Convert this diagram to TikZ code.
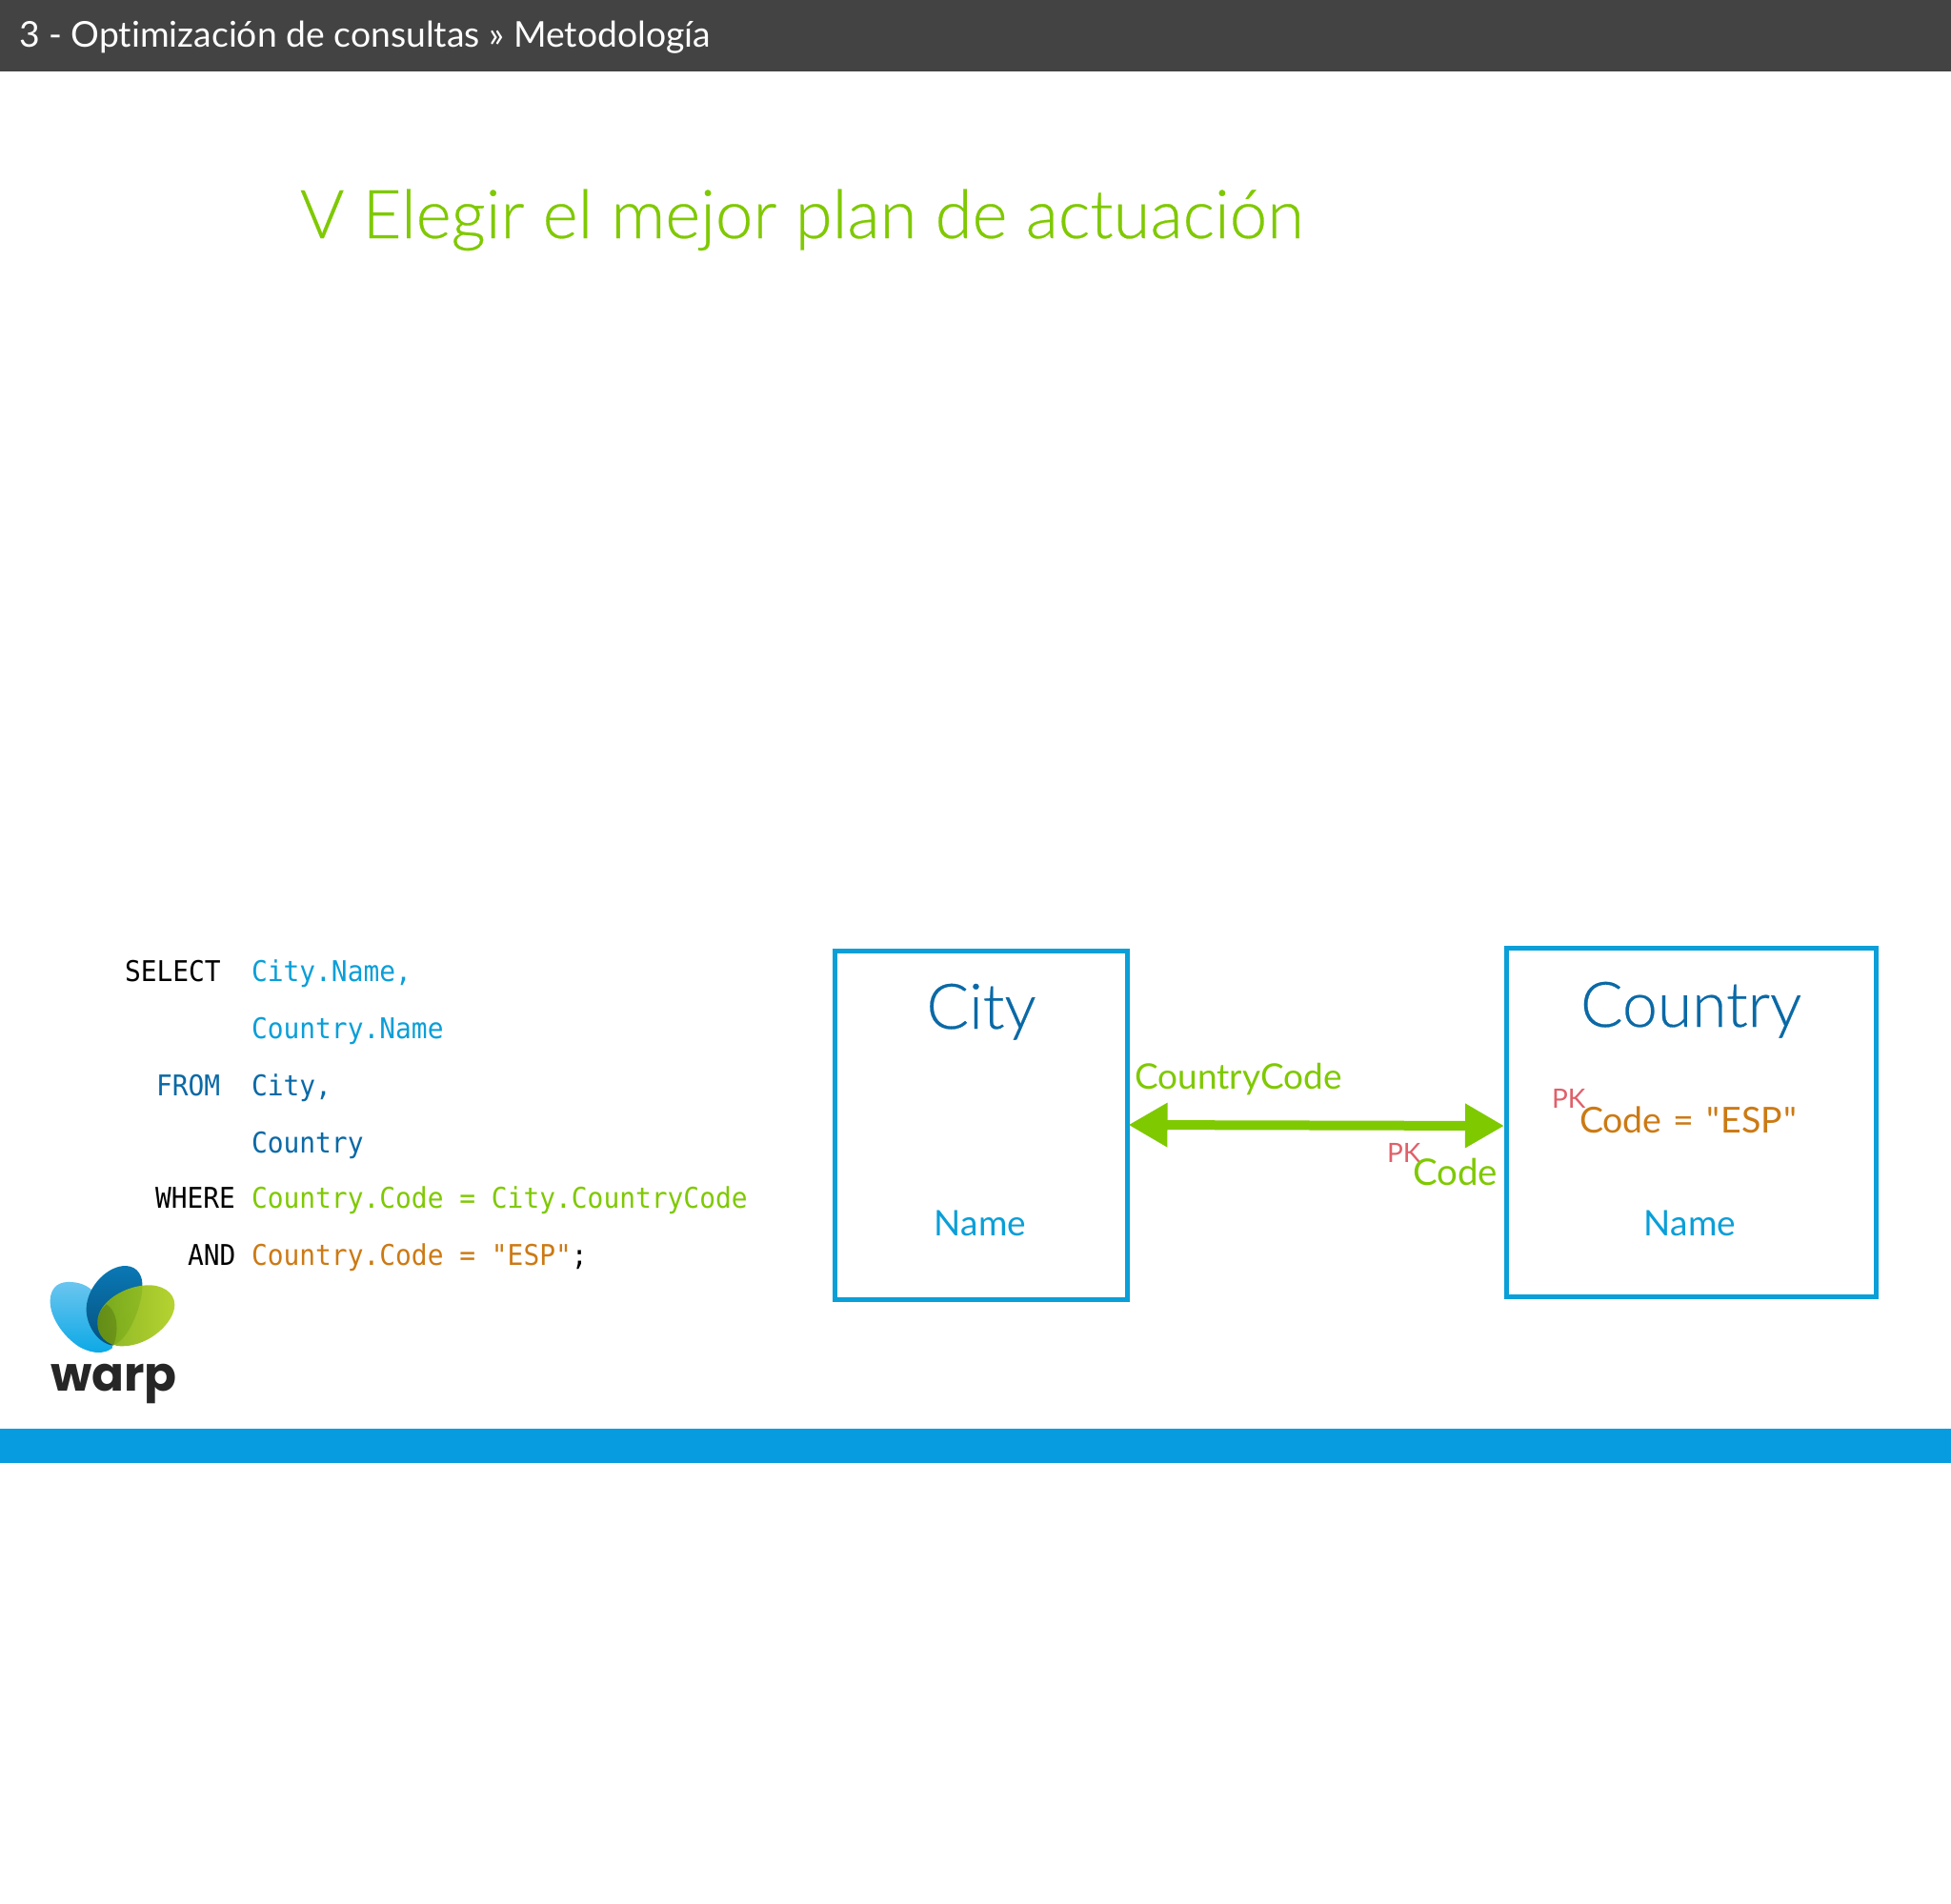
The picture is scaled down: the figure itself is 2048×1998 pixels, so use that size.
\documentclass[tikz,border=0pt]{standalone}
\usepackage{fontspec}
\setmainfont{Lato}[Ligatures=NoCommon]
\setmonofont{DejaVu Sans Mono}[FakeStretch=0.93]
\newfontfamily\lightfont{Lato}[UprightFont=* Light,FakeBold=0.4]
\newfontfamily\plainfont{Lato}
\newfontfamily\logofont{Poppins}[BoldFont=* Bold]
\usetikzlibrary{arrows.meta}
\definecolor{hdr}{HTML}{434343}
\definecolor{barblue}{HTML}{069CDF}
\definecolor{lime}{HTML}{7FC900}
\definecolor{dblue}{HTML}{0A69A6}
\definecolor{cyanb}{HTML}{0A9FD8}
\definecolor{orng}{HTML}{CC7A14}
\definecolor{pkred}{HTML}{E0606A}
\definecolor{leafa}{HTML}{6CC6EF}
\definecolor{leafb}{HTML}{0AA8E6}
\definecolor{leafc}{HTML}{0A78B5}
\definecolor{leafd}{HTML}{05527F}
\definecolor{leafe}{HTML}{7FAE12}
\definecolor{leaff}{HTML}{B0D020}
\tikzset{
  txt/.style={anchor=base west,inner sep=0pt,outer sep=0pt},
  code/.style={txt,font=\ttfamily\fontsize{30}{34}\selectfont},
  entity/.style={draw=cyanb,line width=5pt,fill=white,inner sep=0pt,outer sep=0pt,rectangle},
  bigname/.style={anchor=base,inner sep=0pt,text=dblue,font=\lightfont\fontsize{66}{76}\selectfont},
  attr/.style={anchor=base,inner sep=0pt,text=cyanb,font=\fontsize{37}{44}\selectfont},
  fieldtxt/.style={txt,font=\fontsize{37}{44}\selectfont},
  pktxt/.style={txt,text=pkred,font=\fontsize{28}{32}\selectfont},
  link/.style={draw=lime,line width=10pt,{Triangle[length=41pt,width=44pt]}-{Triangle[length=41pt,width=44pt]},shorten <=1pt,shorten >=2pt}
}
\begin{document}
\begin{tikzpicture}[x=1pt,y=-1pt]
\useasboundingbox (0,0) rectangle (2048,1998);
\fill[white] (0,0) rectangle (2048,1998);
\fill[hdr] (0,0) rectangle (2048,75);
\fill[barblue] (0,1500) rectangle (2048,1536);
\node[txt,text=white,font=\fontsize{37.3}{44}\selectfont] (header) at (20,49) {3 - Optimización de consultas » Metodología};
\node[txt,text=lime,font=\lightfont\fontsize{70.7}{80}\selectfont] (title) at (315,250) {V Elegir el mejor plan de actuación};
% SQL
\node[code,text=black] (kselect) at (131,1030) {SELECT};
\node[code,text=cyanb] (v1) at (264,1030) {City.Name,};
\node[code,text=cyanb] (v2) at (264,1090) {Country.Name};
\node[code,text=dblue] (kfrom) at (164,1150) {FROM};
\node[code,text=dblue] (v3) at (264,1150) {City,};
\node[code,text=dblue] (v4) at (264,1210) {Country};
\node[code,text=black] (kwhere) at (163,1268) {WHERE};
\node[code,text=lime] (v5) at (264,1268) {Country.Code = City.CountryCode};
\node[code,text=black] (kand) at (197,1328) {AND};
\node[code,text=orng] (v6) at (264,1328) {Country.Code = "ESP"\textcolor{black}{;}};
% entities
\node[entity,minimum width=307pt,minimum height=366pt] (city) at (1030,1181) {};
\node[entity,minimum width=388pt,minimum height=366pt] (country) at (1775,1178) {};
\node[bigname] (cityname) at (1030,1080) {City};
\node[bigname] (countryname) at (1775,1078) {Country};
\node[attr] (cityattr) at (1029,1297) {Name};
\node[attr] (countryattr) at (1774,1297) {Name};
\draw[link] (city.east) -- ([yshift=-4pt]country.west);
\node[fieldtxt,text=lime] (fk) at (1191,1143) {CountryCode};
\node[pktxt] (pk1) at (1456,1220) {PK};
\node[fieldtxt,text=lime,font=\fontsize{38.5}{44}\selectfont] (code1) at (1483,1244) {Code};
\node[pktxt] (pk2) at (1629,1163) {PK};
\node[fieldtxt,text=orng,font=\plainfont\fontsize{37.5}{44}\selectfont] (code2) at (1658,1189) {Code\hspace{2pt} =\hspace{4pt} "\kern1pt ESP\kern1pt"};
% logo
\begin{scope}[shift={(20,1310)},x=0.3333pt,y=-0.3333pt]
\shade[top color=leafa,bottom color=leafb]
  (98,165) .. controls (100,120) and (130,105) .. (165,108)
  .. controls (200,110) and (225,125) .. (240,145)
  -- (295,315)
  .. controls (270,335) and (235,335) .. (195,315)
  .. controls (150,290) and (96,225) .. (98,165) -- cycle;
\shade[top color=leafc,bottom color=leafd]
  (338,57) .. controls (375,60) and (392,90) .. (388,130)
  .. controls (384,190) and (345,290) .. (295,308)
  .. controls (245,300) and (210,240) .. (212,190)
  .. controls (215,120) and (280,55) .. (338,57) -- cycle;
\shade[left color=leafe,right color=leaff,opacity=.92]
  (400,118) .. controls (450,115) and (490,140) .. (490,180)
  .. controls (490,235) and (410,310) .. (325,310)
  .. controls (275,310) and (245,275) .. (247,232)
  .. controls (250,170) and (330,122) .. (400,118) -- cycle;
\fill[black,opacity=.15]
  (275,178) .. controls (305,195) and (318,250) .. (298,305)
  .. controls (270,300) and (247,270) .. (247,232)
  .. controls (250,205) and (262,190) .. (275,178) -- cycle;
\end{scope}
\node[txt,text=black!85,font=\logofont\bfseries\fontsize{50}{55}\selectfont] (warp) at (53,1460) {warp};
\end{tikzpicture}
\end{document}
